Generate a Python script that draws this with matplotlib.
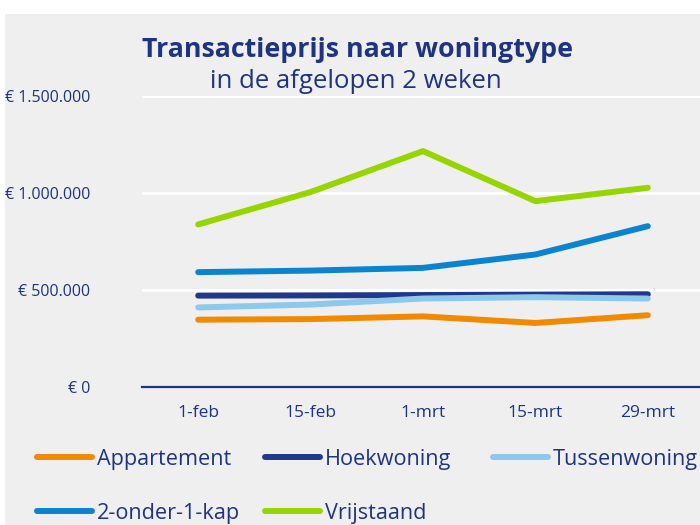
import matplotlib.pyplot as plt
from matplotlib.patches import Rectangle
from matplotlib.ticker import FuncFormatter

plt.rcParams['font.family'] = ['Open Sans', 'DejaVu Sans']

dates = ['1-feb', '15-feb', '1-mrt', '15-mrt', '29-mrt']
appartement = [347000, 350000, 364000, 330000, 370000]
hoekwoning = [471000, 472000, 474000, 476000, 478000]
tussenwoning = [410000, 425000, 456000, 463000, 456000]
twee_onder_een_kap = [592000, 600000, 614000, 683000, 829000]
vrijstaand = [838000, 1005000, 1216000, 958000, 1027000]

series = [
    ('Appartement', appartement, '#f18a00'),
    ('Hoekwoning', hoekwoning, '#1f3a8a'),
    ('Tussenwoning', tussenwoning, '#8ec8ea'),
    ('2-onder-1-kap', twee_onder_een_kap, '#0a84cf'),
    ('Vrijstaand', vrijstaand, '#96d500'),
]

navy = '#1f3480'
bg = '#efefef'

fig = plt.figure(figsize=(7, 5.25), dpi=100)
fig.patch.set_facecolor('white')
fig.patches.append(Rectangle((5 / 700, 0), 1, 511 / 525, transform=fig.transFigure,
                             facecolor=bg, edgecolor='none', zorder=-1))

ax = fig.add_axes([142 / 700, 1 - 387 / 525, 562 / 700, 291 / 525])
ax.set_facecolor('none')

x = range(len(dates))
lines = {}
for name, vals, col in series:
    lines[name], = ax.plot(x, vals, color=col, lw=4.3, solid_capstyle='round',
                           solid_joinstyle='round', label=name, clip_on=False, zorder=3)

ax.set_xlim(-0.5, 4.5)
ax.set_ylim(0, 1500000)
ax.set_yticks([0, 500000, 1000000, 1500000])
ax.yaxis.set_major_formatter(FuncFormatter(
    lambda v, p: '€ ' + f'{int(v):,}'.replace(',', '.')))
ax.set_xticks(list(x))
ax.set_xticklabels(dates)
ax.grid(axis='y', color='white', lw=2)
ax.set_axisbelow(True)
for s in ['top', 'right', 'left']:
    ax.spines[s].set_visible(False)
ax.spines['bottom'].set_color(navy)
ax.spines['bottom'].set_linewidth(1.6)
ax.tick_params(length=0, labelcolor=navy)
ax.tick_params(axis='y', pad=37, labelsize=11.5)
ax.tick_params(axis='x', pad=13, labelsize=12.5)

fig.text(357 / 700, 1 - 50 / 525, 'Transactieprijs naar woningtype', ha='center',
         va='center', fontsize=19.3, fontweight='bold', color=navy)
fig.text(356 / 700, 1 - 82 / 525, 'in de afgelopen 2 weken', ha='center',
         va='center', fontsize=18.5, color=navy)

# legend: three equal-width columns, filled row by row
columns = [['Appartement', '2-onder-1-kap'], ['Hoekwoning', 'Vrijstaand'], ['Tussenwoning']]
for i, names in enumerate(columns):
    fig.legend([lines[n] for n in names], names, loc='upper left',
               bbox_to_anchor=((37 + 228 * i) / 700, 1 - 449 / 525), frameon=False,
               fontsize=15.6, handlelength=2.55, handletextpad=0.2, labelspacing=1.5,
               borderpad=0, borderaxespad=0, labelcolor=navy)

fig.savefig('out.png', dpi=100)
